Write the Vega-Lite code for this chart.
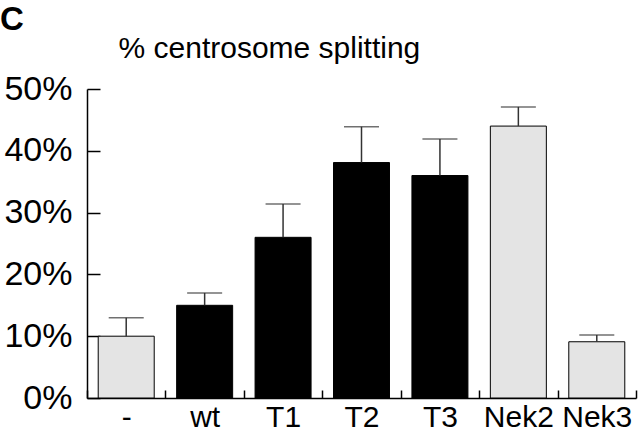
{
  "$schema": "https://vega.github.io/schema/vega-lite/v6.json",
  "width": 549,
  "height": 309,
  "autosize": "none",
  "padding": {"left": 87, "top": 89, "right": 4, "bottom": 37},
  "background": "white",
  "config": {
    "view": {"stroke": null},
    "font": "Liberation Sans"
  },
  "title": {
    "text": "C",
    "anchor": "start",
    "frame": "group",
    "dx": -87,
    "fontSize": 33,
    "fontWeight": "bold",
    "color": "black",
    "baseline": "alphabetic",
    "offset": -30
  },
  "data": {
    "values": [
      {"cond": "-", "pct": 0.10, "upper": 0.13, "kind": "control"},
      {"cond": "wt", "pct": 0.15, "upper": 0.17, "kind": "kinase"},
      {"cond": "T1", "pct": 0.26, "upper": 0.314, "kind": "kinase"},
      {"cond": "T2", "pct": 0.381, "upper": 0.439, "kind": "kinase"},
      {"cond": "T3", "pct": 0.36, "upper": 0.419, "kind": "kinase"},
      {"cond": "Nek2", "pct": 0.44, "upper": 0.471, "kind": "control"},
      {"cond": "Nek3", "pct": 0.091, "upper": 0.102, "kind": "control"}
    ]
  },
  "encoding": {
    "x": {
      "field": "cond",
      "type": "nominal",
      "sort": null,
      "scale": {"paddingInner": 0, "paddingOuter": 0},
      "axis": {
        "title": null,
        "labelAngle": 0,
        "labelFontSize": 30,
        "labelColor": "black",
        "labelPadding": 12,
        "tickBand": "extent",
        "tickSize": -8,
        "tickColor": "black",
        "tickWidth": 1.5,
        "domainColor": "black",
        "domainWidth": 1.5
      }
    }
  },
  "layer": [
    {
      "mark": {"type": "bar", "width": {"band": 0.714}, "stroke": "black", "strokeWidth": 1},
      "encoding": {
        "y": {
          "field": "pct",
          "type": "quantitative",
          "scale": {"domain": [0, 0.5], "nice": false},
          "axis": {
            "title": "% centrosome splitting",
            "titleAngle": 0,
            "titleAlign": "left",
            "titleBaseline": "alphabetic",
            "titleX": 31,
            "titleY": -32,
            "titleFontSize": 30,
            "titleFontWeight": "normal",
            "titleColor": "black",
            "format": ".0%",
            "values": [0, 0.1, 0.2, 0.3, 0.4, 0.5],
            "grid": false,
            "labelFontSize": 34,
            "labelColor": "black",
            "labelPadding": 28,
            "tickSize": -13,
            "tickColor": "black",
            "tickWidth": 1.5,
            "domainColor": "black",
            "domainWidth": 1.5
          }
        },
        "fill": {
          "field": "kind",
          "type": "nominal",
          "scale": {"domain": ["control", "kinase"], "range": ["#e4e4e4", "#000000"]},
          "legend": null
        }
      }
    },
    {
      "mark": {"type": "rule", "color": "#333333", "strokeWidth": 1.5},
      "encoding": {
        "y": {"field": "pct", "type": "quantitative"},
        "y2": {"field": "upper"}
      }
    },
    {
      "mark": {"type": "tick", "color": "#333333", "thickness": 1.5, "size": 35},
      "encoding": {
        "y": {"field": "upper", "type": "quantitative"}
      }
    }
  ]
}
